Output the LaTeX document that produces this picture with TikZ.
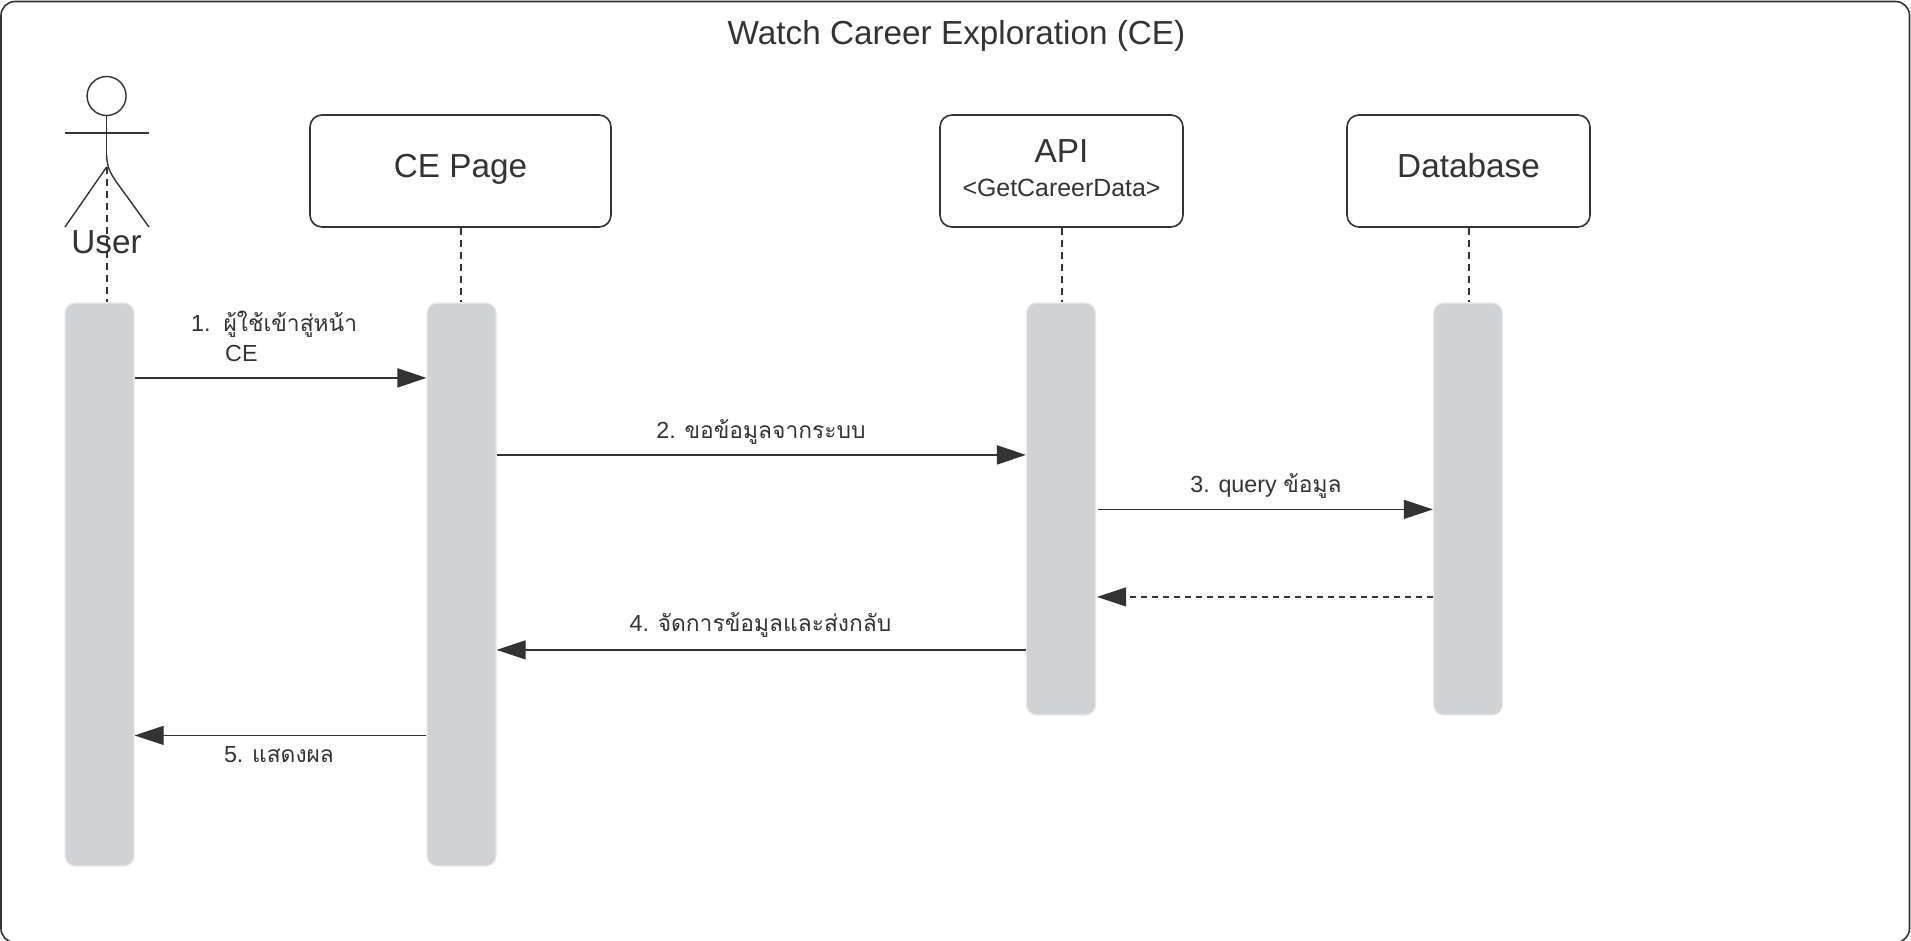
\documentclass[tikz,border=0pt]{standalone}
\usepackage{fontspec}
\setmainfont{Liberation Sans}
\newfontfamily\thaifont[Script=Thai]{Loma}
\usetikzlibrary{arrows.meta, positioning, calc}
\definecolor{inkcol}{HTML}{333333}
\definecolor{barcol}{HTML}{D1D2D4}
\definecolor{baredge}{HTML}{E9E9EA}
\newcommand{\thtxt}[1]{{\thaifont\fontsize{22.8}{27}\selectfont #1}}
\tikzset{
	unitbox/.style={draw=inkcol, line width=1.6pt, rounded corners=12pt, text=inkcol, inner sep=0pt, minimum height=112pt},
	lifebar/.style={draw=baredge, line width=1.2pt, fill=barcol, rounded corners=10pt, minimum width=69pt, inner sep=0pt},
	lifeline/.style={draw=inkcol, line width=2pt, dash pattern=on 7pt off 5pt},
	msgline/.style={draw=inkcol, line width=1.2pt, -{Triangle[length=29pt,width=19pt]}},
	msgthick/.style={msgline, line width=2pt},
	msgtext/.style={text=inkcol, inner sep=0pt, font=\fontsize{23.3}{27}\selectfont},
}
\begin{document}
\begin{tikzpicture}[x=1pt, y=-1pt]
	\useasboundingbox (0,0) rectangle (1911,940);
	\node [draw=inkcol, line width=1.6pt, rounded corners=14pt, minimum width=1908.5pt, minimum height=941pt, inner sep=0pt] (frame) at (955.25,472) {};
	\node [text=inkcol, font=\fontsize{33.3}{38}\selectfont] (title) at (956.5,36) {Watch Career Exploration (CE)};

	% actor
	\node [circle, draw=inkcol, line width=1.4pt, minimum size=39pt, inner sep=0pt] (head) at (106.6,96) {};
	\coordinate (armleft) at (65,133);
	\coordinate (armright) at (149,133);
	\coordinate (waist) at (106.6,155);
	\coordinate (hip) at (106.6,167);
	\coordinate (footleft) at (65,227);
	\coordinate (footright) at (149,227);
	\draw [inkcol, line width=1.4pt] (head.south) -- (waist);
	\draw [inkcol, line width=1.4pt] (armleft) -- (armright);
	\draw [inkcol, line width=1.4pt] (footleft) -- (hip);
	\draw [inkcol, line width=1.4pt] (waist) .. controls (107,167) and (110,172) .. (115,180) -- (footright);
	\node [text=inkcol, font=\fontsize{33.3}{38}\selectfont, inner sep=0pt] (usertext) at (106.6,242) {User};

	% boxes on top
	\node [unitbox, minimum width=301pt] (cepage) at (460.5,171) {};
	\node [unitbox, minimum width=243pt] (api) at (1061.5,171) {};
	\node [unitbox, minimum width=243pt] (database) at (1468.5,171) {};
	\node [text=inkcol, inner sep=0pt, font=\fontsize{33.3}{38}\selectfont] (cetext) at (460.5,169.5) {CE Page};
	\node [text=inkcol, inner sep=0pt, font=\fontsize{33.3}{38}\selectfont] (apitext) at (1061.5,151) {API};
	\node [text=inkcol, inner sep=0pt, font=\fontsize{24.9}{28}\selectfont] (apisub) at (1061.5,188) {<GetCareerData>};
	\node [text=inkcol, inner sep=0pt, font=\fontsize{33.3}{38}\selectfont] (dbtext) at (1468.5,166) {Database};

	% activation bars
	\node [lifebar, minimum height=563pt] (userbar) at (99.5,584.5) {};
	\node [lifebar, minimum height=563pt] (cebar) at (461.5,584.5) {};
	\node [lifebar, minimum height=412pt] (apibar) at (1061,509) {};
	\node [lifebar, minimum height=412pt] (dbbar) at (1468,509) {};

	% dashed lifelines
	\draw [lifeline] (hip) -- (hip |- userbar.north);
	\draw [lifeline] (cepage.south) -- (cepage.south |- cebar.north);
	\draw [lifeline] (api.south) -- (api.south |- apibar.north);
	\draw [lifeline] (database.south) -- (database.south |- dbbar.north);

	% messages
	\draw [msgthick] ([yshift=-75.5pt]userbar.north east) -- ([yshift=-75.5pt]cebar.north west);
	\draw [msgthick] ([yshift=-152.5pt]cebar.north east) -- ([yshift=-152.5pt]apibar.north west);
	\draw [msgline] ([xshift=2pt,yshift=-207pt]apibar.north east) -- ([yshift=-207pt]dbbar.north west);
	\draw [msgline, dashed, dash pattern=on 6pt off 5pt] ([yshift=-294.5pt]dbbar.north west) -- ([xshift=1pt,yshift=-294.5pt]apibar.north east);
	\draw [msgline] ([yshift=-347.5pt]apibar.north west) -- ([yshift=-347.5pt]cebar.north east);
	\draw [msgline] ([yshift=-433pt]cebar.north west) -- ([yshift=-433pt]userbar.north east);

	% message labels
	\node [msgtext, anchor=west] (msgonea) at (191,324) {1.\hspace{13pt}\thtxt{ผู้ใช้เข้าสู่หน้า}};
	\node [msgtext, anchor=west] (msgoneb) at (225,353.5) {CE};
	\node [msgtext] (msgtwo) at (761,431.5) {2. \thtxt{ขอข้อมูลจากระบบ}};
	\node [msgtext] (msgthree) at (1266,485.5) {3. query \thtxt{ข้อมูล}};
	\node [msgtext] (msgfour) at (760.5,625) {4. \thtxt{จัดการข้อมูลและส่งกลับ}};
	\node [msgtext] (msgfive) at (279,754.5) {5. \thtxt{แสดงผล}};
\end{tikzpicture}
\end{document}
